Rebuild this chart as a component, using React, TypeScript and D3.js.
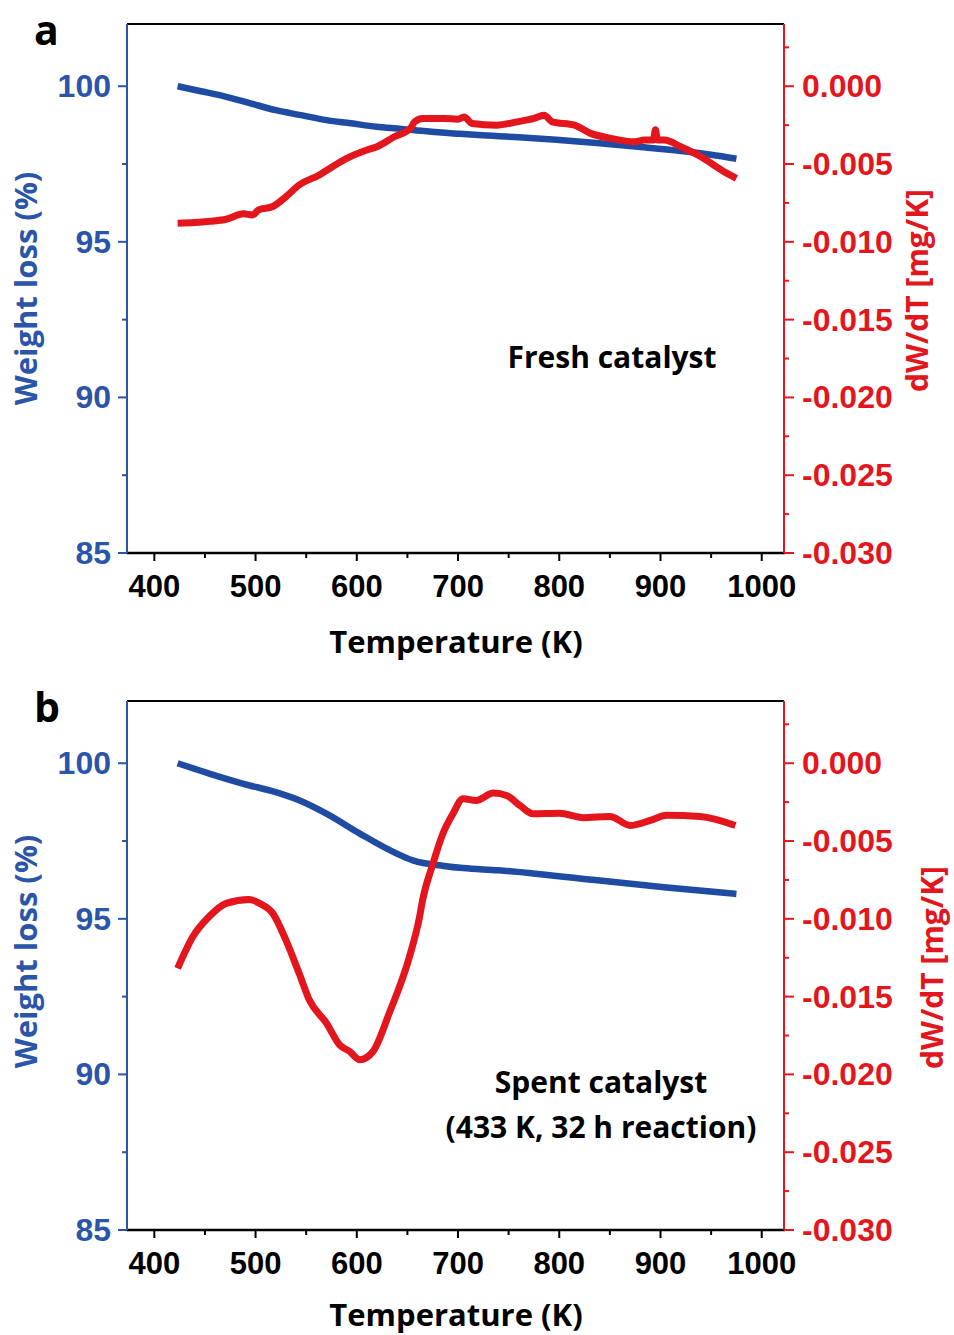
import React from "react";
import * as d3 from "d3";

// Axis ticks
const tempTicks = [400, 500, 600, 700, 800, 900, 1000];
const tempMinorTicks = [450, 550, 650, 750, 850, 950];
const weightTicks = [85, 90, 95, 100];
const weightMinorTicks = [87.5, 92.5, 97.5];
const derivTicks = [0, -0.005, -0.01, -0.015, -0.02, -0.025, -0.03];
const derivMinorTicks = [0.0025, -0.0025, -0.0075, -0.0125, -0.0175, -0.0225, -0.0275];

// Fresh catalyst: weight (%)
const freshWeightT = [423, 446, 471, 495, 520, 545, 570, 594, 619, 644, 669, 702, 720, 760, 800, 840, 880, 920, 950, 975];
const freshWeight = [100, 99.84, 99.66, 99.45, 99.23, 99.07, 98.91, 98.81, 98.7, 98.63, 98.55, 98.47, 98.43, 98.36, 98.27, 98.17, 98.05, 97.92, 97.8, 97.67];

// Fresh catalyst: dW/dT (mg/K)
const freshDerivT = [423, 440, 455, 471, 488, 497, 503, 517, 530, 543, 563, 576, 590, 610, 620, 637, 653, 657, 665, 686, 700, 706, 714, 738, 758, 775, 785, 793, 815, 831, 851, 875, 884, 893, 895, 897, 904, 920, 940, 960, 975];
const freshDeriv = [-0.0088, -0.00876, -0.00868, -0.00855, -0.0082, -0.00827, -0.00795, -0.00773, -0.0071, -0.00635, -0.0057, -0.00517, -0.00464, -0.0041, -0.00389, -0.00325, -0.00271, -0.00229, -0.00207, -0.00207, -0.00212, -0.00197, -0.00239, -0.0025, -0.00229, -0.00207, -0.00186, -0.00229, -0.0025, -0.00303, -0.00335, -0.00357, -0.00346, -0.00346, -0.0028, -0.00346, -0.00346, -0.00389, -0.00453, -0.00538, -0.00592];

// Spent catalyst: weight (%)
const spentWeightT = [423, 455, 488, 520, 543, 570, 603, 636, 656, 686, 705, 740, 774, 840, 906, 975];
const spentWeight = [100, 99.66, 99.34, 99.07, 98.81, 98.38, 97.74, 97.15, 96.87, 96.7, 96.63, 96.56, 96.46, 96.23, 96.01, 95.8];

// Spent catalyst: dW/dT (mg/K)
const spentDerivT = [423, 438, 454, 471, 494, 504, 517, 530, 543, 553, 570, 583, 593, 603, 616, 632, 652, 662, 665, 675, 685, 695, 705, 718, 735, 748, 761, 774, 800, 824, 850, 870, 890, 906, 939, 974];
const spentDeriv = [-0.01318, -0.01115, -0.00987, -0.00901, -0.00876, -0.00901, -0.00965, -0.01137, -0.0135, -0.0152, -0.0167, -0.0181, -0.01853, -0.01906, -0.01853, -0.01607, -0.01244, -0.00987, -0.0088, -0.0065, -0.00453, -0.00324, -0.00228, -0.00239, -0.00192, -0.00207, -0.00271, -0.00324, -0.00321, -0.0035, -0.00342, -0.004, -0.00367, -0.00335, -0.00342, -0.004];

const BLUE = "#1f4ca2";
const BLUE_AXIS = "#2a55a8";
const RED = "#e3151d";
const TICK_FONT = "'Liberation Sans', Arial, sans-serif";
const TITLE_FONT = "'Open Sans', Lato, sans-serif";

const LEFT = 127;
const RIGHT = 784;
const PANEL_H = 529;

type PanelProps = {
  top: number;
  letter: string;
  wT: number[];
  w: number[];
  dT: number[];
  d: number[];
  note: string[];
  noteX: number;
  noteY: number;
  noteGap: number;
  rightTitleX: number;
  leftTitleShift: number;
  xTitleGap: number;
};

function Panel({ top, letter, wT, w, dT, d, note, noteX, noteY, noteGap, rightTitleX, leftTitleShift, xTitleGap }: PanelProps) {
  const bottom = top + PANEL_H;
  const x = d3.scaleLinear().domain([373, 1022]).range([LEFT, RIGHT]);
  const yW = d3.scaleLinear().domain([85, 102]).range([bottom, top]);
  const yD = d3.scaleLinear().domain([-0.03, 0.004]).range([bottom, top]);

  const weightLine = d3
    .line<number>()
    .x((_, i) => x(wT[i]))
    .y((v) => yW(v))
    .curve(d3.curveMonotoneX);
  const derivLine = d3
    .line<number>()
    .x((_, i) => x(dT[i]))
    .y((v) => yD(v))
    .curve(d3.curveMonotoneX);

  const midY = (top + bottom) / 2;

  return (
    <g>
      <text x={34} y={top + 21} fontFamily={TITLE_FONT} fontWeight={700} fontSize={41} fill="#000">
        {letter}
      </text>

      {/* data */}
      <path d={weightLine(w) ?? ""} fill="none" stroke={BLUE} strokeWidth={6.5} strokeLinejoin="round" />
      <path d={derivLine(d) ?? ""} fill="none" stroke={RED} strokeWidth={7} strokeLinejoin="round" />

      {/* frame */}
      <line x1={LEFT} x2={RIGHT} y1={top} y2={top} stroke="#000" strokeWidth={2} />
      <line x1={LEFT} x2={RIGHT + 1} y1={bottom} y2={bottom} stroke="#000" strokeWidth={2.5} />
      <line x1={LEFT} x2={LEFT} y1={top} y2={bottom} stroke={BLUE_AXIS} strokeWidth={2} />
      <line x1={RIGHT} x2={RIGHT} y1={top} y2={bottom} stroke={RED} strokeWidth={2} />

      {/* bottom axis */}
      {tempTicks.map((t) => (
        <g key={"t" + t}>
          <line x1={x(t)} x2={x(t)} y1={bottom} y2={bottom + 8} stroke="#000" strokeWidth={2} />
          <text x={x(t)} y={bottom + 44} textAnchor="middle" fontFamily={TICK_FONT} fontWeight={700} fontSize={31} fill="#000">
            {t}
          </text>
        </g>
      ))}
      {tempMinorTicks.map((t) => (
        <line key={"tm" + t} x1={x(t)} x2={x(t)} y1={bottom} y2={bottom + 5} stroke="#000" strokeWidth={2} />
      ))}
      <text x={456} y={bottom + xTitleGap} textAnchor="middle" fontFamily={TITLE_FONT} fontWeight={700} fontSize={31} fill="#000">
        Temperature (K)
      </text>

      {/* left axis */}
      {weightTicks.map((v) => (
        <g key={"w" + v}>
          <line x1={LEFT - 9} x2={LEFT} y1={yW(v)} y2={yW(v)} stroke={BLUE_AXIS} strokeWidth={2} />
          <text x={111} y={yW(v) + 11} textAnchor="end" fontFamily={TICK_FONT} fontWeight={700} fontSize={32} fill={BLUE_AXIS}>
            {v}
          </text>
        </g>
      ))}
      {weightMinorTicks.map((v) => (
        <line key={"wm" + v} x1={LEFT - 5} x2={LEFT} y1={yW(v)} y2={yW(v)} stroke={BLUE_AXIS} strokeWidth={2} />
      ))}
      <text
        transform={`translate(37, ${midY + leftTitleShift}) rotate(-90)`}
        textAnchor="middle"
        fontFamily={TITLE_FONT}
        fontWeight={700}
        fontSize={31}
        fill={BLUE_AXIS}
      >
        Weight loss (%)
      </text>

      {/* right axis */}
      {derivTicks.map((v) => (
        <g key={"d" + v}>
          <line x1={RIGHT} x2={RIGHT + 10} y1={yD(v)} y2={yD(v)} stroke={RED} strokeWidth={2} />
          <text x={802} y={yD(v) + 11} textAnchor="start" fontFamily={TICK_FONT} fontWeight={700} fontSize={32} fill={RED}>
            {d3.format(".3f")(v).replace("−", "-")}
          </text>
        </g>
      ))}
      {derivMinorTicks.map((v) => (
        <line key={"dm" + v} x1={RIGHT} x2={RIGHT + 5} y1={yD(v)} y2={yD(v)} stroke={RED} strokeWidth={2} />
      ))}
      <text
        transform={`translate(${rightTitleX}, ${midY + 2}) rotate(-90)`}
        textAnchor="middle"
        fontFamily={TITLE_FONT}
        fontWeight={700}
        fontSize={30}
        fill={RED}
      >
        dW/dT [mg/K]
      </text>

      {/* annotation */}
      {note.map((line, i) => (
        <text
          key={i}
          x={noteX}
          y={noteY + i * noteGap}
          textAnchor="middle"
          fontFamily={TITLE_FONT}
          fontWeight={700}
          fontSize={30}
          fill="#000"
        >
          {line}
        </text>
      ))}
    </g>
  );
}

export default function App() {
  return (
    <svg
      width={954}
      height={1335}
      viewBox="0 0 954 1335"
      style={{ position: "absolute", left: 0, top: 0, background: "#fff" }}
    >
      <rect width={954} height={1335} fill="#fff" />
      <Panel
        top={24}
        letter="a"
        wT={freshWeightT}
        w={freshWeight}
        dT={freshDerivT}
        d={freshDeriv}
        note={["Fresh catalyst"]}
        noteX={612}
        noteY={368}
        noteGap={0}
        rightTitleX={928}
        leftTitleShift={0}
        xTitleGap={100}
      />
      <Panel
        top={701}
        letter="b"
        wT={spentWeightT}
        w={spentWeight}
        dT={spentDerivT}
        d={spentDeriv}
        note={["Spent catalyst", "(433 K, 32 h reaction)"]}
        noteX={601}
        noteY={1093}
        noteGap={45}
        rightTitleX={943}
        leftTitleShift={-14}
        xTitleGap={96}
      />
    </svg>
  );
}
